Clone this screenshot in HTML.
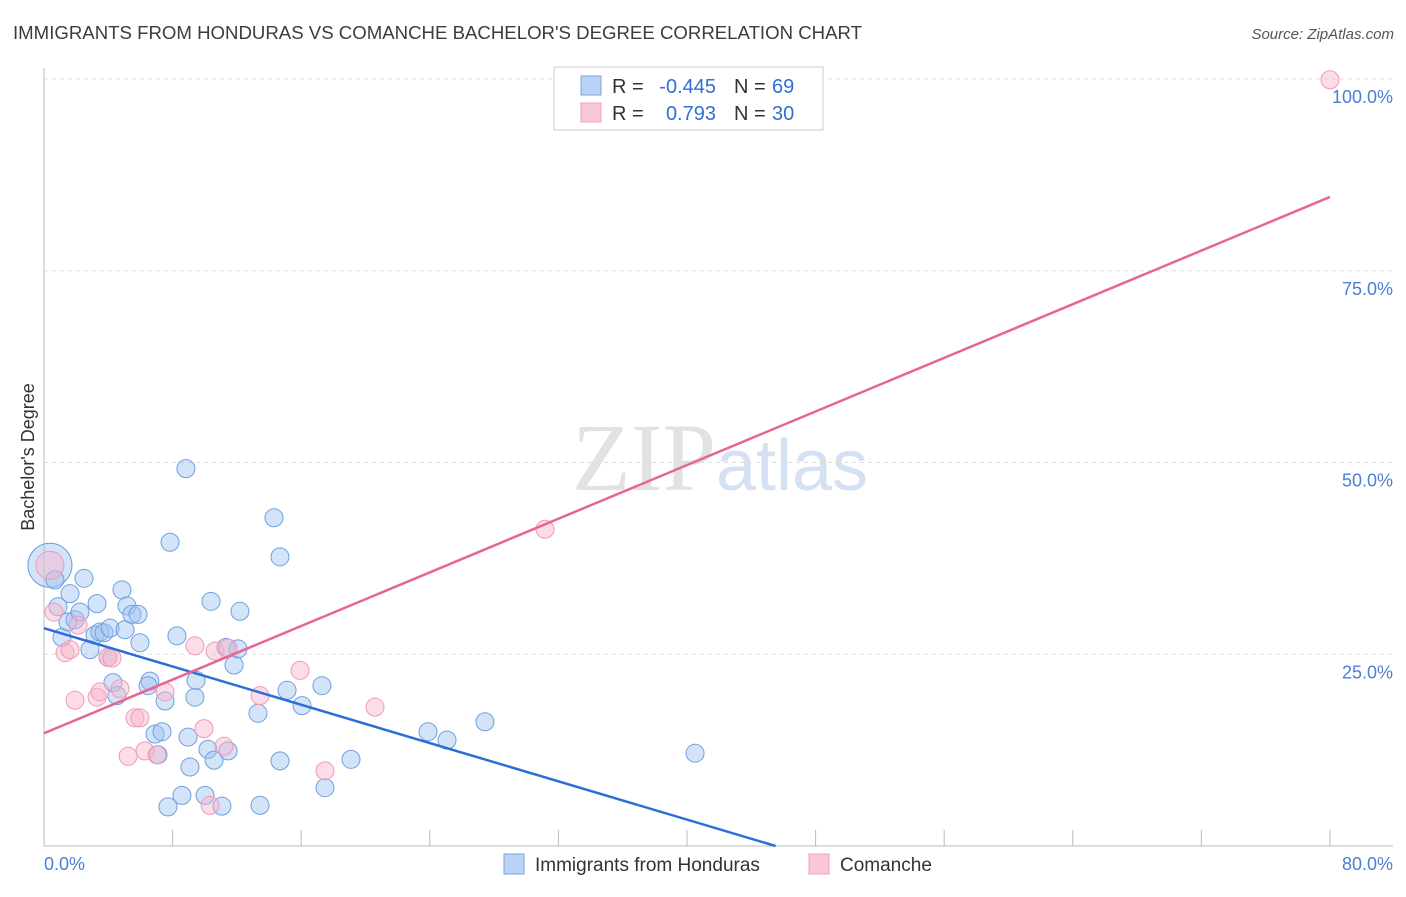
<!DOCTYPE html>
<html><head><meta charset="utf-8"><style>
body{margin:0;background:#fff;font-family:"Liberation Sans",sans-serif;}
svg text{font-family:"Liberation Sans",sans-serif;}
</style></head><body>
<svg id="chart" width="1406" height="892" xmlns="http://www.w3.org/2000/svg">
<text x="13" y="39" font-size="18" fill="#3c3c3c" textLength="849" lengthAdjust="spacingAndGlyphs">IMMIGRANTS FROM HONDURAS VS COMANCHE BACHELOR'S DEGREE CORRELATION CHART</text>
<text x="1394" y="39" font-size="15" fill="#555" text-anchor="end" font-style="italic">Source: ZipAtlas.com</text>
<text x="720" y="490" font-size="96" text-anchor="middle"><tspan fill="#e2e2e2" font-family="Liberation Serif">ZIP</tspan><tspan fill="#d3e1f3" font-size="72">atlas</tspan></text>
<text transform="translate(34,457) rotate(-90)" font-size="18" fill="#333" text-anchor="middle">Bachelor's Degree</text>
<g id="grid"></g><g id="axes"></g><g id="pts"></g><g id="lines"></g>
<g>
<rect x="554" y="67" width="269" height="63" fill="#fff" stroke="#ccc"/>
<rect x="581" y="76" width="20" height="19" fill="#b9d2f5" stroke="#7aa6e3"/>
<rect x="581" y="103" width="20" height="19" fill="#f9c7d7" stroke="#f0a0bb"/>
<text x="612" y="93" font-size="20" fill="#333">R =</text>
<text x="716" y="93" font-size="20" fill="#2f6fd6" text-anchor="end">-0.445</text>
<text x="734" y="93" font-size="20" fill="#333">N =</text>
<text x="772" y="93" font-size="20" fill="#2f6fd6">69</text>
<text x="612" y="120" font-size="20" fill="#333">R =</text>
<text x="716" y="120" font-size="20" fill="#2f6fd6" text-anchor="end">0.793</text>
<text x="734" y="120" font-size="20" fill="#333">N =</text>
<text x="772" y="120" font-size="20" fill="#2f6fd6">30</text>
</g>
<g>
<rect x="504" y="854" width="20" height="20" fill="#b9d2f5" stroke="#7aa6e3"/>
<text x="535" y="871" font-size="19" fill="#333">Immigrants from Honduras</text>
<rect x="809" y="854" width="20" height="20" fill="#f9c7d7" stroke="#f0a0bb"/>
<text x="840" y="871" font-size="19" fill="#333">Comanche</text>
</g>
</svg>
<script>
const blueX=[0.37,0.68,0.87,1.12,1.62,1.49,1.93,2.24,2.49,2.86,3.30,3.17,3.48,3.73,4.11,3.98,4.29,4.54,4.85,5.04,5.16,5.47,5.85,5.97,6.59,6.47,6.91,7.09,7.34,7.53,7.84,7.71,8.27,8.58,8.83,8.96,9.08,9.39,9.46,10.02,10.20,10.39,10.58,11.07,11.45,11.32,11.82,12.07,12.19,13.31,13.44,14.31,14.68,14.68,15.12,16.05,17.29,17.48,19.10,23.89,25.07,27.43,40.50];
const blueY=[36.6,34.7,31.2,27.2,32.9,29.2,29.5,30.5,34.9,25.6,31.6,27.5,27.9,27.8,28.4,24.6,21.3,19.6,33.4,28.2,31.3,30.2,30.2,26.5,21.5,20.9,14.6,11.9,14.9,18.9,39.6,5.1,27.4,6.6,49.2,14.2,10.3,19.4,21.6,6.6,12.6,31.9,11.2,5.2,12.4,25.9,23.6,25.7,30.6,17.3,5.3,42.8,37.7,11.1,20.3,18.3,20.9,7.6,11.3,14.9,13.8,16.2,12.1];
const pinkX=[0.37,0.62,1.31,1.62,2.12,1.93,3.30,3.48,3.98,4.23,4.73,5.66,5.97,5.23,6.28,7.03,7.53,9.39,9.95,10.64,11.20,11.45,10.33,13.44,15.93,17.48,20.59,31.17,80.0];
const pinkY=[36.6,30.5,25.2,25.6,28.8,19.0,19.4,20.1,24.6,24.5,20.5,16.7,16.7,11.7,12.4,11.9,20.1,26.1,15.3,25.4,13.0,25.8,5.3,19.6,22.9,9.8,18.1,41.3,99.9];
const blueTrend=[28.4,-0.624];
const pinkTrend=[14.7,0.874];
const yTicks=[25,50,75,100];
const xTicks=[0,8,16,24,32,40,48,56,64,72,80];
const X0=44,X1=1330,Y0=846,Y1=79;
const sx=v=>X0+(X1-X0)*v/80, sy=v=>Y0-(Y0-Y1)*v/100;
const NS='http://www.w3.org/2000/svg';
function mk(t,a,p){const e=document.createElementNS(NS,t);for(const k in a)e.setAttribute(k,a[k]);p.appendChild(e);return e;}
const grid=document.getElementById('grid'),axes=document.getElementById('axes'),pts=document.getElementById('pts'),lines=document.getElementById('lines');
yTicks.forEach(v=>{
 const l=mk('line',{x1:X0,x2:1393,y1:sy(v),y2:sy(v),stroke:'#ddd','stroke-dasharray':'4,4'},grid);
 
 
 const t=mk('text',{x:1393,y:sy(v)+24,'font-size':18,fill:'#4a7fd4','text-anchor':'end'},axes);
 t.textContent=v.toFixed(1)+'%';
 
 
});
const ax=mk('line',{x1:X0,x2:1393,y1:Y0,y2:Y0,stroke:'#bbb'},axes);


const ay=mk('line',{x1:X0,x2:X0,y1:68,y2:Y0,stroke:'#bbb'},axes);


xTicks.forEach(v=>{
 const t=mk('line',{x1:sx(v),x2:sx(v),y1:Y0-16,y2:Y0,stroke:'#bbb'},axes);
 
 
});
[[0,'0.0%','start',X0],[80,'80.0%','end',1393]].forEach(a=>{
 const t=mk('text',{x:a[3],y:870,'font-size':18,fill:'#4a7fd4','text-anchor':a[2]},axes);
 t.textContent=a[1];
 
 
});
function dots(xs,ys,fill,stroke,name,bigR){
 xs.forEach((x,i)=>{
  const c=mk('circle',{cx:sx(x),cy:sy(ys[i]),r:i===0?bigR:9,fill:fill,stroke:stroke,'stroke-width':1},pts);
  
  
 });
}
dots(blueX,blueY,'rgba(160,195,240,0.45)','#6f9fe2','honduras-point',22);
dots(pinkX,pinkY,'rgba(248,180,202,0.45)','#f09ab8','comanche-point',14);
const bEnd=-blueTrend[0]/blueTrend[1];
const bl=mk('line',{x1:sx(0),y1:sy(blueTrend[0]),x2:sx(bEnd),y2:sy(0),stroke:'#2a6fd8','stroke-width':2.5},lines);


const pl=mk('line',{x1:sx(0),y1:sy(pinkTrend[0]),x2:sx(80),y2:sy(pinkTrend[0]+80*pinkTrend[1]),stroke:'#e8658f','stroke-width':2.5},lines);


</script>
</body></html>
